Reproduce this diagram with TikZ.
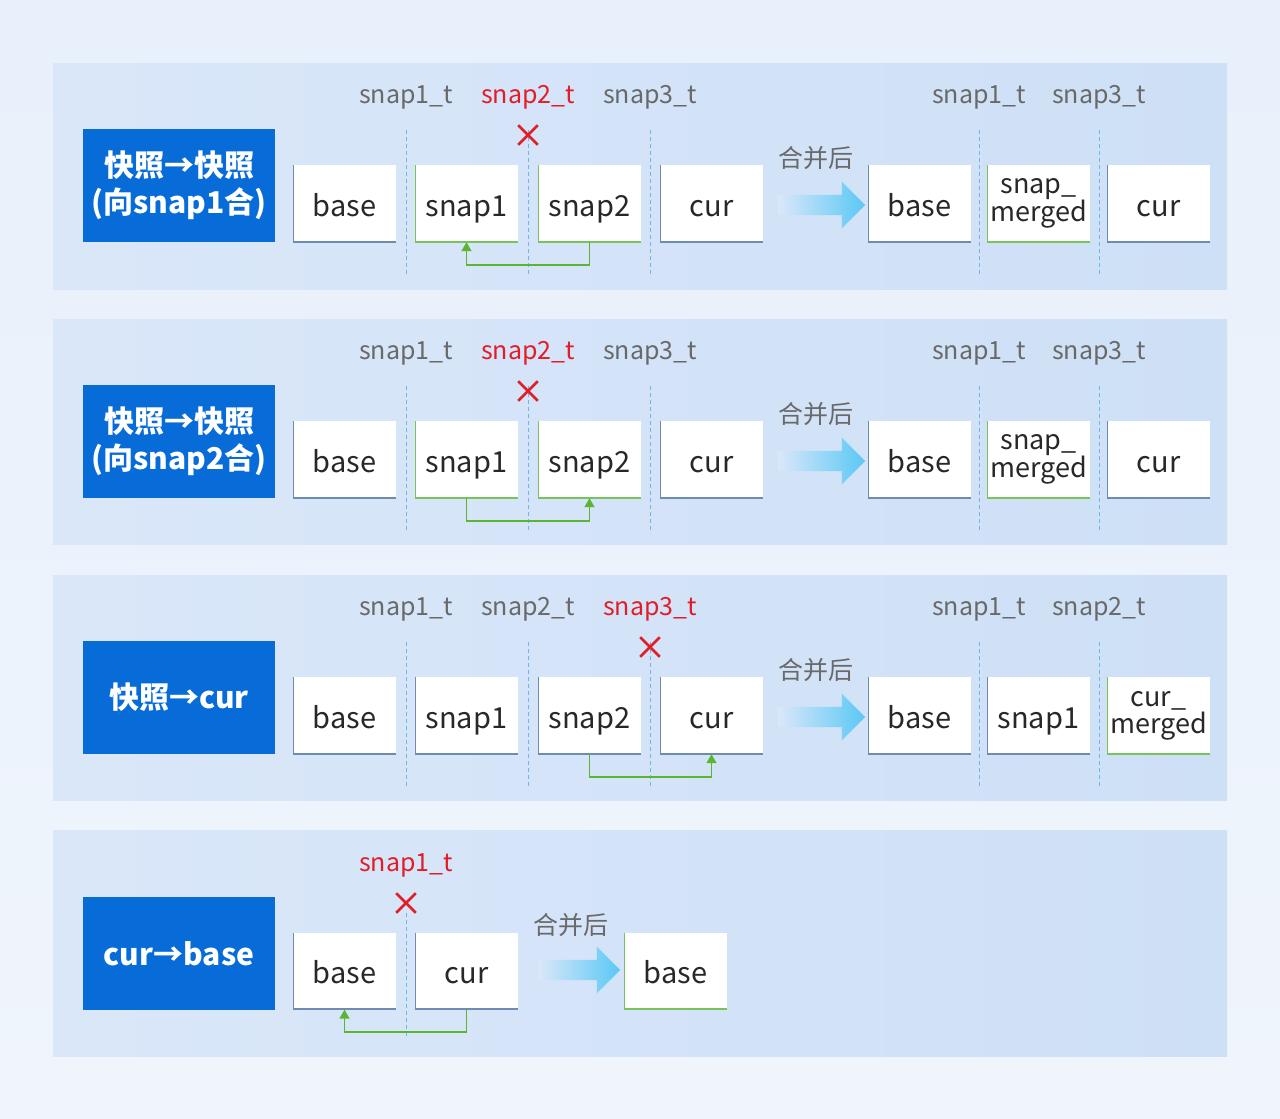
\documentclass[tikz,border=0pt]{standalone}
\usepackage{fontspec}
\setmainfont{Noto Sans CJK SC}
\usetikzlibrary{shapes.arrows,shapes.misc,arrows.meta}

\definecolor{bgtop}{RGB}{232,240,251}
\definecolor{bgbottom}{RGB}{240,245,252}
\definecolor{panelleft}{RGB}{218,231,249}
\definecolor{panelright}{RGB}{206,224,246}
\definecolor{labelblue}{RGB}{8,108,216}
\definecolor{edgeblue}{RGB}{110,140,175}
\definecolor{edgegreen}{RGB}{120,195,90}
\definecolor{linkgreen}{RGB}{92,181,49}
\definecolor{timegray}{RGB}{105,105,105}
\definecolor{markred}{RGB}{225,30,40}
\definecolor{dividerblue}{RGB}{110,185,225}
\definecolor{arrowblue}{RGB}{90,200,245}
\definecolor{textdark}{RGB}{40,40,40}

\begin{document}
\begin{tikzpicture}[x=1pt,y=-1pt]
    % Define styles
    \tikzset{
        titlebox/.style={rectangle, fill=labelblue, minimum width=192pt, minimum height=113pt, text=white, align=center, font=\fontsize{30}{37}\selectfont\bfseries},
        cell/.style={rectangle, fill=white, minimum width=103pt, minimum height=77pt, inner sep=0pt, text=textdark, align=center, text height=25pt, text depth=0pt, font=\fontsize{29}{32}\selectfont,
            path picture={\draw[line width=2.4pt, #1] (path picture bounding box.north west) -- (path picture bounding box.south west) -- (path picture bounding box.south east);}},
        cell/.default=edgeblue,
        merged/.style={text height=, text depth=, font=\fontsize{27}{27}\selectfont},
        timelabel/.style={text=timegray, font=\fontsize{25}{28}\selectfont},
        mergetext/.style={text=timegray, font=\fontsize{25}{28}\selectfont},
        crossmark/.style={cross out, draw=markred, line width=2.6pt, minimum size=17pt, inner sep=0pt},
        divider/.style={draw=dividerblue, line width=1pt, dash pattern=on 4pt off 3pt},
        mergearrow/.style={single arrow, single arrow head extend=13pt, inner xsep=0pt, inner ysep=10pt, minimum height=87pt, left color=panelleft, right color=arrowblue, draw=none},
        link/.style={->, >={Triangle[length=9pt,width=10pt]}, draw=linkgreen, line width=1.6pt}
    }

    % Background
    \useasboundingbox (0,0) rectangle (1280,1119);
    \shade[top color=bgtop, bottom color=bgbottom] (0,0) rectangle (1280,1119);

    % Panel 1: snapshot -> snapshot (to snap1)
    \shade[left color=panelleft, right color=panelright] (53,63) rectangle (1227,289);
    \node[titlebox] (title_node_1) at (179,185.5) {快照→快照\\(向snap1合)};
    \draw[divider] (406,130) -- (406,277);
    \draw[divider] (528,130) -- (528,277);
    \draw[divider] (650,130) -- (650,277);
    \draw[divider] (979,130) -- (979,277);
    \draw[divider] (1099,130) -- (1099,277);
    \node[timelabel] (time_node_1a) at (406,97) {snap1\_t};
    \node[timelabel, text=markred] (time_node_1b) at (528,97) {snap2\_t};
    \node[timelabel] (time_node_1c) at (650,97) {snap3\_t};
    \node[timelabel] (time_node_1d) at (979,97) {snap1\_t};
    \node[timelabel] (time_node_1e) at (1099,97) {snap3\_t};
    \node[crossmark] (cross_node_1) at (528,135) {};
    \node[cell] (base_node_1) at (344.5,203.5) {base};
    \node[cell=edgegreen] (snap1_node_1) at (466.5,203.5) {snap1};
    \node[cell=edgegreen] (snap2_node_1) at (589.5,203.5) {snap2};
    \node[cell] (cur_node_1) at (711.5,203.5) {cur};
    \node[mergearrow] (arrow_node_1) at (816.5,205) {};
    \node[mergetext] (merge_text_1) at (816,158) {合并后};
    \node[cell] (newbase_node_1) at (919.5,203.5) {base};
    \node[cell=edgegreen, merged] (merged_node_1) at (1038.5,203.5) {snap\_\\merged};
    \node[cell] (newcur_node_1) at (1158.5,203.5) {cur};
    \draw[link] (snap2_node_1.south) -- ++(0,23) -| (snap1_node_1.south);

    % Panel 2: snapshot -> snapshot (to snap2)
    \shade[left color=panelleft, right color=panelright] (53,319) rectangle (1227,544);
    \node[titlebox] (title_node_2) at (179,441.5) {快照→快照\\(向snap2合)};
    \draw[divider] (406,386) -- (406,533);
    \draw[divider] (528,386) -- (528,533);
    \draw[divider] (650,386) -- (650,533);
    \draw[divider] (979,386) -- (979,533);
    \draw[divider] (1099,386) -- (1099,533);
    \node[timelabel] (time_node_2a) at (406,353) {snap1\_t};
    \node[timelabel, text=markred] (time_node_2b) at (528,353) {snap2\_t};
    \node[timelabel] (time_node_2c) at (650,353) {snap3\_t};
    \node[timelabel] (time_node_2d) at (979,353) {snap1\_t};
    \node[timelabel] (time_node_2e) at (1099,353) {snap3\_t};
    \node[crossmark] (cross_node_2) at (528,391) {};
    \node[cell] (base_node_2) at (344.5,459.5) {base};
    \node[cell=edgegreen] (snap1_node_2) at (466.5,459.5) {snap1};
    \node[cell=edgegreen] (snap2_node_2) at (589.5,459.5) {snap2};
    \node[cell] (cur_node_2) at (711.5,459.5) {cur};
    \node[mergearrow] (arrow_node_2) at (816.5,461) {};
    \node[mergetext] (merge_text_2) at (816,414) {合并后};
    \node[cell] (newbase_node_2) at (919.5,459.5) {base};
    \node[cell=edgegreen, merged] (merged_node_2) at (1038.5,459.5) {snap\_\\merged};
    \node[cell] (newcur_node_2) at (1158.5,459.5) {cur};
    \draw[link] (snap1_node_2.south) -- ++(0,23) -| (snap2_node_2.south);

    % Panel 3: snapshot -> cur
    \shade[left color=panelleft, right color=panelright] (53,575) rectangle (1227,800);
    \node[titlebox] (title_node_3) at (179,697.5) {快照→cur};
    \draw[divider] (406,642) -- (406,789);
    \draw[divider] (528,642) -- (528,789);
    \draw[divider] (650,642) -- (650,789);
    \draw[divider] (979,642) -- (979,789);
    \draw[divider] (1099,642) -- (1099,789);
    \node[timelabel] (time_node_3a) at (406,609) {snap1\_t};
    \node[timelabel] (time_node_3b) at (528,609) {snap2\_t};
    \node[timelabel, text=markred] (time_node_3c) at (650,609) {snap3\_t};
    \node[timelabel] (time_node_3d) at (979,609) {snap1\_t};
    \node[timelabel] (time_node_3e) at (1099,609) {snap2\_t};
    \node[crossmark] (cross_node_3) at (650,647) {};
    \node[cell] (base_node_3) at (344.5,715.5) {base};
    \node[cell] (snap1_node_3) at (466.5,715.5) {snap1};
    \node[cell] (snap2_node_3) at (589.5,715.5) {snap2};
    \node[cell] (cur_node_3) at (711.5,715.5) {cur};
    \node[mergearrow] (arrow_node_3) at (816.5,717) {};
    \node[mergetext] (merge_text_3) at (816,670) {合并后};
    \node[cell] (newbase_node_3) at (919.5,715.5) {base};
    \node[cell] (newsnap1_node_3) at (1038.5,715.5) {snap1};
    \node[cell=edgegreen, merged] (merged_node_3) at (1158.5,715.5) {cur\_\\merged};
    \draw[link] (snap2_node_3.south) -- ++(0,23) -| (cur_node_3.south);

    % Panel 4: cur -> base
    \shade[left color=panelleft, right color=panelright] (53,830) rectangle (1227,1056);
    \node[titlebox] (title_node_4) at (179,953.5) {cur→base};
    \draw[divider] (406,913) -- (406,1038);
    \node[timelabel, text=markred] (time_node_4a) at (406,865) {snap1\_t};
    \node[crossmark] (cross_node_4) at (406,903) {};
    \node[cell] (base_node_4) at (344.5,971) {base};
    \node[cell] (cur_node_4) at (466.5,971) {cur};
    \node[mergearrow, minimum height=82pt] (arrow_node_4) at (574,970) {};
    \node[mergetext] (merge_text_4) at (571,925) {合并后};
    \node[cell=edgegreen] (newbase_node_4) at (675.5,971) {base};
    \draw[link] (cur_node_4.south) -- ++(0,22) -| (base_node_4.south);
\end{tikzpicture}
\end{document}
